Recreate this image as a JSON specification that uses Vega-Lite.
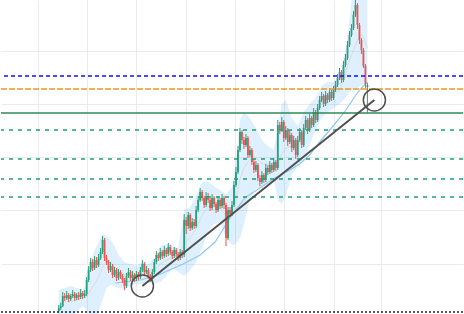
{
  "$schema": "https://vega.github.io/schema/vega-lite/v6.json",
  "width": 464,
  "height": 314,
  "autosize": {"type": "fit", "contains": "padding"},
  "padding": 0,
  "background": "white",
  "config": {
    "view": {"stroke": null},
    "axis": {"labels": false, "ticks": false, "domain": false, "grid": true, "gridColor": "#ebebeb", "gridWidth": 1, "minExtent": 0, "maxExtent": 0, "offset": 0, "labelPadding": 0, "tickSize": 0, "titlePadding": 0}
  },
  "datasets": {
    "candles": [
      {"t":58,"o":3,"h":9,"l":1,"c":6},{"t":60,"o":6,"h":11,"l":4,"c":8},{"t":62,"o":8,"h":22,"l":7,"c":18},{"t":64,"o":18,"h":21,"l":13,"c":16},
      {"t":66,"o":16,"h":23,"l":14,"c":19},{"t":68,"o":19,"h":21,"l":12,"c":15},{"t":70,"o":15,"h":20,"l":13,"c":18},{"t":72,"o":18,"h":24,"l":16,"c":20},
      {"t":74,"o":20,"h":22,"l":13,"c":16},{"t":76,"o":16,"h":21,"l":14,"c":19},{"t":78,"o":19,"h":22,"l":14,"c":17},{"t":80,"o":17,"h":25,"l":15,"c":21},
      {"t":82,"o":21,"h":23,"l":15,"c":18},{"t":84,"o":18,"h":24,"l":16,"c":20},{"t":86,"o":20,"h":37,"l":18,"c":34},{"t":88,"o":34,"h":48,"l":32,"c":44},
      {"t":90,"o":44,"h":56,"l":42,"c":52},{"t":92,"o":52,"h":55,"l":43,"c":46},{"t":94,"o":46,"h":58,"l":44,"c":54},{"t":96,"o":54,"h":57,"l":46,"c":49},
      {"t":98,"o":49,"h":60,"l":47,"c":56},{"t":100,"o":56,"h":66,"l":54,"c":62},{"t":102,"o":62,"h":78,"l":60,"c":74},{"t":104,"o":74,"h":76,"l":53,"c":56},
      {"t":106,"o":56,"h":59,"l":49,"c":52},{"t":108,"o":52,"h":54,"l":41,"c":44},{"t":110,"o":44,"h":52,"l":42,"c":48},{"t":112,"o":48,"h":50,"l":36,"c":39},
      {"t":114,"o":39,"h":47,"l":37,"c":44},{"t":116,"o":44,"h":46,"l":33,"c":36},{"t":118,"o":36,"h":45,"l":34,"c":42},{"t":120,"o":42,"h":44,"l":35,"c":38},
      {"t":122,"o":38,"h":40,"l":31,"c":34},{"t":124,"o":34,"h":36,"l":24,"c":28},{"t":126,"o":28,"h":41,"l":26,"c":38},{"t":128,"o":38,"h":46,"l":36,"c":42},
      {"t":130,"o":42,"h":44,"l":33,"c":36},{"t":132,"o":36,"h":43,"l":34,"c":39},{"t":134,"o":39,"h":41,"l":32,"c":35},{"t":136,"o":35,"h":43,"l":33,"c":40},
      {"t":138,"o":40,"h":42,"l":34,"c":37},{"t":140,"o":37,"h":47,"l":35,"c":44},{"t":142,"o":44,"h":54,"l":42,"c":50},{"t":144,"o":50,"h":52,"l":39,"c":42},
      {"t":146,"o":42,"h":48,"l":40,"c":44},{"t":148,"o":44,"h":46,"l":35,"c":38},{"t":150,"o":38,"h":40,"l":32,"c":35},{"t":152,"o":35,"h":45,"l":33,"c":42},
      {"t":154,"o":42,"h":55,"l":40,"c":52},{"t":156,"o":52,"h":63,"l":50,"c":59},{"t":158,"o":59,"h":61,"l":53,"c":56},{"t":160,"o":56,"h":66,"l":54,"c":62},
      {"t":162,"o":62,"h":64,"l":55,"c":58},{"t":164,"o":58,"h":68,"l":56,"c":64},{"t":166,"o":64,"h":66,"l":57,"c":60},{"t":168,"o":60,"h":71,"l":58,"c":67},
      {"t":170,"o":67,"h":69,"l":59,"c":62},{"t":172,"o":62,"h":64,"l":55,"c":58},{"t":174,"o":58,"h":67,"l":56,"c":64},{"t":176,"o":64,"h":66,"l":57,"c":60},
      {"t":178,"o":60,"h":62,"l":53,"c":56},{"t":180,"o":56,"h":65,"l":54,"c":62},{"t":182,"o":62,"h":64,"l":56,"c":59},{"t":184,"o":59,"h":100,"l":57,"c":94},
      {"t":186,"o":94,"h":97,"l":80,"c":88},{"t":188,"o":88,"h":102,"l":85,"c":99},{"t":190,"o":99,"h":101,"l":83,"c":86},{"t":192,"o":86,"h":96,"l":84,"c":92},
      {"t":194,"o":92,"h":95,"l":85,"c":88},{"t":196,"o":88,"h":108,"l":86,"c":104},{"t":198,"o":104,"h":118,"l":102,"c":114},{"t":200,"o":114,"h":126,"l":112,"c":122},
      {"t":202,"o":122,"h":124,"l":113,"c":116},{"t":204,"o":116,"h":118,"l":106,"c":109},{"t":206,"o":109,"h":122,"l":107,"c":118},{"t":208,"o":118,"h":121,"l":111,"c":114},
      {"t":210,"o":114,"h":116,"l":103,"c":106},{"t":212,"o":106,"h":120,"l":104,"c":116},{"t":214,"o":116,"h":118,"l":107,"c":110},{"t":216,"o":110,"h":112,"l":101,"c":104},
      {"t":218,"o":104,"h":118,"l":102,"c":114},{"t":220,"o":114,"h":116,"l":105,"c":108},{"t":222,"o":108,"h":120,"l":106,"c":116},{"t":224,"o":116,"h":118,"l":105,"c":109},
      {"t":226,"o":109,"h":111,"l":68,"c":76},{"t":228,"o":76,"h":107,"l":74,"c":104},{"t":230,"o":104,"h":107,"l":97,"c":100},{"t":232,"o":100,"h":113,"l":98,"c":109},
      {"t":234,"o":109,"h":133,"l":107,"c":129},{"t":236,"o":129,"h":147,"l":127,"c":142},{"t":238,"o":142,"h":168,"l":140,"c":164},{"t":240,"o":164,"h":186,"l":162,"c":182},
      {"t":242,"o":182,"h":184,"l":170,"c":174},{"t":244,"o":174,"h":177,"l":165,"c":169},{"t":246,"o":169,"h":180,"l":167,"c":176},{"t":248,"o":176,"h":178,"l":156,"c":159},
      {"t":250,"o":159,"h":168,"l":157,"c":164},{"t":252,"o":164,"h":166,"l":149,"c":152},{"t":254,"o":152,"h":155,"l":141,"c":144},{"t":256,"o":144,"h":153,"l":142,"c":149},
      {"t":258,"o":149,"h":151,"l":133,"c":136},{"t":260,"o":136,"h":139,"l":128,"c":132},{"t":262,"o":132,"h":143,"l":130,"c":139},{"t":264,"o":139,"h":141,"l":131,"c":134},
      {"t":266,"o":134,"h":150,"l":132,"c":146},{"t":268,"o":146,"h":149,"l":139,"c":142},{"t":270,"o":142,"h":153,"l":140,"c":149},{"t":272,"o":149,"h":151,"l":141,"c":144},
      {"t":274,"o":144,"h":156,"l":142,"c":152},{"t":276,"o":152,"h":154,"l":143,"c":146},{"t":278,"o":146,"h":194,"l":144,"c":189},{"t":280,"o":189,"h":192,"l":180,"c":184},
      {"t":282,"o":184,"h":197,"l":182,"c":192},{"t":284,"o":192,"h":194,"l":172,"c":176},{"t":286,"o":176,"h":188,"l":174,"c":184},{"t":288,"o":184,"h":186,"l":168,"c":172},
      {"t":290,"o":172,"h":183,"l":170,"c":179},{"t":292,"o":179,"h":181,"l":162,"c":166},{"t":294,"o":166,"h":178,"l":164,"c":174},{"t":296,"o":174,"h":176,"l":155,"c":159},
      {"t":298,"o":159,"h":178,"l":157,"c":174},{"t":300,"o":174,"h":186,"l":172,"c":182},{"t":302,"o":182,"h":184,"l":166,"c":169},{"t":304,"o":169,"h":190,"l":167,"c":186},
      {"t":306,"o":186,"h":198,"l":184,"c":194},{"t":308,"o":194,"h":196,"l":180,"c":184},{"t":310,"o":184,"h":200,"l":182,"c":196},{"t":312,"o":196,"h":198,"l":186,"c":189},
      {"t":314,"o":189,"h":206,"l":187,"c":202},{"t":316,"o":202,"h":204,"l":191,"c":194},{"t":318,"o":194,"h":210,"l":192,"c":206},{"t":320,"o":206,"h":218,"l":204,"c":214},
      {"t":322,"o":214,"h":222,"l":212,"c":218},{"t":324,"o":218,"h":220,"l":207,"c":210},{"t":326,"o":210,"h":223,"l":208,"c":219},{"t":328,"o":219,"h":221,"l":211,"c":214},
      {"t":330,"o":214,"h":226,"l":212,"c":222},{"t":332,"o":222,"h":224,"l":213,"c":216},{"t":334,"o":216,"h":228,"l":214,"c":224},{"t":336,"o":224,"h":233,"l":222,"c":229},
      {"t":338,"o":229,"h":240,"l":227,"c":236},{"t":340,"o":236,"h":246,"l":234,"c":242},{"t":342,"o":242,"h":244,"l":231,"c":234},{"t":344,"o":234,"h":253,"l":232,"c":249},
      {"t":346,"o":249,"h":260,"l":247,"c":256},{"t":348,"o":256,"h":273,"l":254,"c":269},{"t":350,"o":269,"h":283,"l":267,"c":279},{"t":352,"o":279,"h":290,"l":277,"c":286},
      {"t":354,"o":286,"h":303,"l":284,"c":299},{"t":356,"o":299,"h":314,"l":297,"c":309},{"t":358,"o":309,"h":311,"l":285,"c":289},{"t":360,"o":289,"h":291,"l":270,"c":274},
      {"t":362,"o":274,"h":276,"l":260,"c":264},{"t":364,"o":264,"h":266,"l":246,"c":248},{"t":366,"o":248,"h":250,"l":226,"c":230},{"t":368,"o":227,"h":231,"l":201,"c":229}
    ],
    "bb": [
      {"t":58,"u":24,"d":-2,"m":11},{"t":64,"u":26,"d":0,"m":13},{"t":70,"u":28,"d":-4,"m":12},{"t":76,"u":26,"d":2,"m":14},
      {"t":82,"u":24,"d":8,"m":16},{"t":86,"u":29,"d":4,"m":17},{"t":90,"u":52,"d":-4,"m":24},{"t":94,"u":64,"d":-4,"m":30},
      {"t":98,"u":72,"d":2,"m":37},{"t":102,"u":80,"d":14,"m":47},{"t":106,"u":78,"d":26,"m":52},{"t":110,"u":74,"d":29,"m":52},
      {"t":114,"u":68,"d":28,"m":48},{"t":118,"u":59,"d":26,"m":43},{"t":124,"u":52,"d":26,"m":39},{"t":130,"u":50,"d":28,"m":39},
      {"t":136,"u":48,"d":30,"m":39},{"t":142,"u":52,"d":30,"m":41},{"t":148,"u":50,"d":31,"m":41},{"t":154,"u":56,"d":30,"m":43},
      {"t":160,"u":68,"d":32,"m":50},{"t":166,"u":70,"d":38,"m":54},{"t":172,"u":68,"d":46,"m":57},{"t":178,"u":66,"d":42,"m":54},
      {"t":184,"u":104,"d":38,"m":71},{"t":190,"u":107,"d":44,"m":76},{"t":196,"u":118,"d":52,"m":85},{"t":202,"u":132,"d":66,"m":99},
      {"t":208,"u":132,"d":82,"m":107},{"t":214,"u":128,"d":90,"m":109},{"t":220,"u":124,"d":92,"m":108},{"t":226,"u":120,"d":76,"m":98},
      {"t":232,"u":126,"d":69,"m":98},{"t":236,"u":154,"d":70,"m":112},{"t":240,"u":194,"d":76,"m":135},{"t":244,"u":202,"d":90,"m":146},
      {"t":250,"u":196,"d":114,"m":155},{"t":256,"u":186,"d":126,"m":156},{"t":262,"u":174,"d":126,"m":150},{"t":268,"u":168,"d":132,"m":150},
      {"t":274,"u":164,"d":136,"m":150},{"t":278,"u":186,"d":114,"m":150},{"t":282,"u":210,"d":110,"m":160},{"t":286,"u":214,"d":118,"m":166},
      {"t":292,"u":196,"d":139,"m":168},{"t":298,"u":188,"d":148,"m":168},{"t":304,"u":202,"d":154,"m":178},{"t":310,"u":210,"d":169,"m":190},
      {"t":316,"u":216,"d":184,"m":200},{"t":322,"u":228,"d":196,"m":212},{"t":328,"u":232,"d":202,"m":217},{"t":334,"u":232,"d":206,"m":219},
      {"t":340,"u":238,"d":210,"m":224},{"t":346,"u":264,"d":216,"m":240},{"t":350,"u":294,"d":222,"m":254},{"t":354,"u":334,"d":224,"m":264},
      {"t":358,"u":354,"d":226,"m":274},{"t":362,"u":354,"d":229,"m":280},{"t":366,"u":344,"d":232,"m":272},{"t":368,"u":334,"d":234,"m":266}
    ],
    "ma": [
      {"t":115,"v":31},{"t":140,"v":34},{"t":160,"v":40},{"t":183,"v":50},{"t":200,"v":59},{"t":215,"v":72},{"t":230,"v":96},
      {"t":245,"v":116},{"t":260,"v":126},{"t":275,"v":136},{"t":290,"v":144},{"t":300,"v":150},{"t":310,"v":159},{"t":320,"v":172},
      {"t":332,"v":186},{"t":345,"v":202},{"t":355,"v":217},{"t":362,"v":226},{"t":368,"v":232}
    ],
    "levels": [
      {"name":"R2","p":238},{"name":"R1","p":225},{"name":"P","p":201},{"name":"S1","p":184},
      {"name":"S2","p":155},{"name":"S3","p":135},{"name":"S4","p":117},{"name":"B","p":2}
    ],
    "trend": [{"t":142,"p":28},{"t":375,"p":214}]
  },
  "layer": [
    {
      "data": {"name": "bb"},
      "mark": {"type": "area", "color": "#2196f3", "opacity": 0.15, "clip": true},
      "encoding": {
        "x": {"field": "t", "type": "quantitative", "scale": {"domain": [0, 464], "nice": false, "zero": false, "padding": 0}, "axis": {"values": [37, 86, 136, 186, 235, 284, 334, 382]}, "title": null},
        "y": {"field": "u", "type": "quantitative", "scale": {"domain": [0, 314], "nice": false, "zero": false, "padding": 0}, "axis": {"values": [50, 104, 157, 210, 263]}, "title": null},
        "y2": {"field": "d"}
      }
    },
    {
      "data": {"name": "bb"},
      "mark": {"type": "line", "color": "#d4d4d4", "strokeWidth": 1, "opacity": 0.7, "clip": true},
      "encoding": {
        "x": {"field": "t", "type": "quantitative", "title": null},
        "y": {"field": "m", "type": "quantitative", "title": null}
      }
    },
    {
      "data": {"name": "ma"},
      "mark": {"type": "line", "color": "#90c8f4", "strokeWidth": 1.2, "clip": true},
      "encoding": {
        "x": {"field": "t", "type": "quantitative", "title": null},
        "y": {"field": "v", "type": "quantitative", "title": null}
      }
    },
    {
      "data": {"name": "candles"},
      "mark": {"type": "rule", "strokeWidth": 1, "clip": true},
      "encoding": {
        "x": {"field": "t", "type": "quantitative", "title": null},
        "y": {"field": "l", "type": "quantitative", "title": null},
        "y2": {"field": "h"},
        "color": {"condition": {"test": "datum.c >= datum.o", "value": "#26a17b"}, "value": "#ef5350"}
      }
    },
    {
      "data": {"name": "candles"},
      "mark": {"type": "bar", "size": 1.8, "clip": true},
      "encoding": {
        "x": {"field": "t", "type": "quantitative", "title": null},
        "y": {"field": "o", "type": "quantitative", "title": null},
        "y2": {"field": "c"},
        "color": {"condition": {"test": "datum.c >= datum.o", "value": "#26a17b"}, "value": "#ef5350"}
      }
    },
    {
      "data": {"name": "levels"},
      "mark": {"type": "rule", "strokeWidth": 1.3},
      "encoding": {
        "y": {"field": "p", "type": "quantitative", "title": null},
        "color": {"field": "name", "type": "nominal", "legend": null,
          "scale": {"domain": ["R2","R1","P","S1","S2","S3","S4","B"], "range": ["#1010f0","#f0961e","#2e8b57","#1f9e74","#1f9e74","#1f9e74","#1f9e74","#222222"]}},
        "strokeDash": {"field": "name", "type": "nominal", "legend": null,
          "scale": {"domain": ["R2","R1","P","S1","S2","S3","S4","B"], "range": [[4,3],[6,2],[1,0],[4,5],[4,5],[4,5],[4,5],[2,2]]}}
      }
    },
    {
      "data": {"name": "trend"},
      "mark": {"type": "line", "color": "#505050", "strokeWidth": 2},
      "encoding": {
        "x": {"field": "t", "type": "quantitative", "title": null},
        "y": {"field": "p", "type": "quantitative", "title": null}
      }
    },
    {
      "data": {"name": "trend"},
      "mark": {"type": "point", "filled": false, "size": 490, "color": "#505050", "strokeWidth": 1.5, "opacity": 1},
      "encoding": {
        "x": {"field": "t", "type": "quantitative", "title": null},
        "y": {"field": "p", "type": "quantitative", "title": null}
      }
    }
  ]
}
